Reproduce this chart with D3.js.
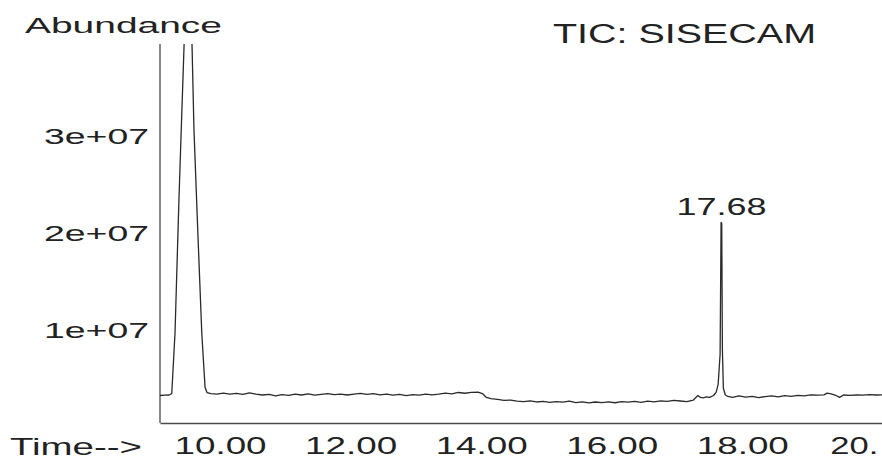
<!DOCTYPE html>
<html>
<head>
<meta charset="utf-8">
<script src="https://cdn.jsdelivr.net/npm/d3@7"></script>
<style>
  html, body { margin: 0; padding: 0; background: #fff; }
  svg { display: block; }
  text { font-family: "Liberation Sans", Arial, sans-serif; fill: #222; }
</style>
</head>
<body>
<svg id="chart" width="882" height="459"></svg>
<script>
// Retention time (min) of the total ion chromatogram
const times = [
  9.08, 9.15, 9.22, 9.26, 9.31, 9.37, 9.41, 9.45, 9.51, 9.57, 9.60, 9.66, 9.72, 9.77, 9.80, 9.86,
  9.95, 10.05, 10.15, 10.25, 10.35, 10.45, 10.55, 10.65, 10.75, 10.85, 10.95,
  11.05, 11.15, 11.25, 11.35, 11.45, 11.55, 11.65, 11.75, 11.85, 11.95,
  12.05, 12.15, 12.25, 12.35, 12.45, 12.55, 12.65, 12.75, 12.85, 12.95,
  13.05, 13.15, 13.25, 13.35, 13.45, 13.55, 13.65, 13.75, 13.85, 13.95,
  14.02, 14.08, 14.15, 14.25, 14.35, 14.45, 14.55, 14.65, 14.75, 14.85, 14.95,
  15.05, 15.15, 15.25, 15.35, 15.45, 15.55, 15.65, 15.75, 15.85, 15.95,
  16.05, 16.15, 16.25, 16.35, 16.45, 16.55, 16.65, 16.75, 16.85, 16.95,
  17.05, 17.15, 17.25, 17.32, 17.36, 17.40, 17.45, 17.50, 17.56, 17.60, 17.63, 17.66,
  17.675, 17.685, 17.695, 17.71, 17.74, 17.78, 17.85, 17.95,
  18.05, 18.15, 18.25, 18.35, 18.45, 18.55, 18.65, 18.75, 18.85, 18.95,
  19.05, 19.15, 19.25, 19.30, 19.36, 19.42, 19.49, 19.55, 19.65, 19.75, 19.85, 19.95, 20.05, 20.14
];

// Abundance (counts) at each retention time
const abundance = [
  3.25e6, 3.28e6, 3.30e6, 3.45e6, 9.7e6, 2.34e7, 3.16e7, 3.96e7, 5.3e7, 3.96e7, 3.07e7, 2.0e7, 9.7e6, 4.1e6, 3.55e6, 3.45e6,
  3.40e6, 3.50e6, 3.38e6, 3.46e6, 3.36e6, 3.52e6, 3.40e6, 3.30e6, 3.36e6, 3.22e6, 3.34e6,
  3.26e6, 3.38e6, 3.30e6, 3.42e6, 3.28e6, 3.36e6, 3.44e6, 3.34e6, 3.40e6, 3.30e6,
  3.38e6, 3.46e6, 3.36e6, 3.44e6, 3.32e6, 3.40e6, 3.28e6, 3.36e6, 3.24e6, 3.34e6,
  3.28e6, 3.40e6, 3.32e6, 3.38e6, 3.50e6, 3.42e6, 3.56e6, 3.48e6, 3.58e6, 3.60e6,
  3.45e6, 3.05e6, 2.92e6, 2.85e6, 2.74e6, 2.78e6, 2.66e6, 2.62e6, 2.70e6, 2.58e6, 2.64e6,
  2.54e6, 2.62e6, 2.56e6, 2.66e6, 2.52e6, 2.60e6, 2.48e6, 2.58e6, 2.52e6, 2.60e6,
  2.50e6, 2.62e6, 2.56e6, 2.64e6, 2.54e6, 2.66e6, 2.60e6, 2.70e6, 2.64e6, 2.74e6,
  2.68e6, 2.62e6, 2.78e6, 3.25e6, 3.05e6, 3.00e6, 3.10e6, 3.05e6, 3.25e6, 3.60e6, 4.40e6, 7.5e6,
  2.11e7, 2.10e7, 8.0e6, 4.0e6, 3.30e6, 3.15e6, 3.05e6, 3.20e6,
  3.08e6, 3.16e6, 3.04e6, 3.14e6, 3.20e6, 3.10e6, 3.24e6, 3.16e6, 3.26e6, 3.20e6,
  3.32e6, 3.28e6, 3.32e6, 3.50e6, 3.42e6, 3.30e6, 3.05e6, 3.30e6, 3.26e6, 3.30e6, 3.28e6, 3.34e6, 3.30e6, 3.32e6
];

// Labelled peak
const peakTime = 17.68;
const peakAbundance = 2.11e7;

// Axis ticks
const xTickValues = [10, 12, 14, 16, 18, 20];
const xTickLabels = ["10.00", "12.00", "14.00", "16.00", "18.00", "20."];
const yTickValues = [1e7, 2e7, 3e7];
const yTickLabels = ["1e+07", "2e+07", "3e+07"];

const svg = d3.select("#chart");
const plotLeft = 160, plotRight = 882, plotTop = 44, plotBottom = 423;

const x = d3.scaleLinear().domain([9.08, 20.14]).range([plotLeft, plotRight]);
const y = d3.scaleLinear().domain([0, 3.95e7]).range([427, plotTop]);

svg.append("defs").append("clipPath").attr("id", "plot-clip")
  .append("rect")
  .attr("x", plotLeft).attr("y", plotTop)
  .attr("width", plotRight - plotLeft).attr("height", plotBottom - plotTop);

// Stretch a text element horizontally to a given width
function stretch(sel, w) {
  sel.attr("textLength", w).attr("lengthAdjust", "spacingAndGlyphs");
}

// X axis (line along the bottom, no tick marks)
const xAxis = svg.append("g")
  .attr("transform", `translate(0,${plotBottom})`)
  .call(d3.axisBottom(x)
    .tickValues(xTickValues)
    .tickFormat((d, i) => xTickLabels[i])
    .tickSize(0).tickSizeOuter(0).tickPadding(14));
xAxis.select(".domain").attr("stroke", "#4a4a4a").attr("stroke-width", 1.3);
xAxis.selectAll(".tick text")
  .attr("font-size", 23).attr("fill", "#222")
  .attr("dy", "0.71em")
  .attr("y", 15)
  .each(function (d, i) {
    const t = d3.select(this);
    if (i === xTickLabels.length - 1) {
      // last label sits against the right edge
      t.attr("text-anchor", "end").attr("x", 5);
      stretch(t, 48);
    } else {
      stretch(t, 92);
    }
  });

// Y axis labels
const yAxis = svg.append("g")
  .attr("transform", `translate(${plotLeft},0)`)
  .call(d3.axisLeft(y)
    .tickValues(yTickValues)
    .tickFormat((d, i) => yTickLabels[i])
    .tickSize(0).tickPadding(11));
yAxis.select(".domain").remove();
yAxis.selectAll(".tick text")
  .attr("font-size", 22).attr("fill", "#222")
  .each(function () { stretch(d3.select(this), 105); });

// Y axis line
svg.append("line")
  .attr("x1", plotLeft).attr("x2", plotLeft)
  .attr("y1", plotTop).attr("y2", plotBottom)
  .attr("stroke", "#4a4a4a").attr("stroke-width", 1.3);

// Chromatogram trace
const line = d3.line()
  .x((d, i) => x(times[i]))
  .y(d => y(d));

svg.append("path")
  .datum(abundance)
  .attr("clip-path", "url(#plot-clip)")
  .attr("fill", "none")
  .attr("stroke", "#2a2a2a")
  .attr("stroke-width", 1.3)
  .attr("stroke-linejoin", "round")
  .attr("d", line);

// Peak label
svg.append("text")
  .attr("x", x(peakTime)).attr("y", y(peakAbundance) - 7)
  .attr("text-anchor", "middle")
  .attr("font-size", 23)
  .text(peakTime.toFixed(2))
  .call(stretch, 90);

// Titles
svg.append("text")
  .attr("x", 25).attr("y", 33)
  .attr("font-size", 22)
  .text("Abundance")
  .call(stretch, 197);

svg.append("text")
  .attr("x", 553).attr("y", 43)
  .attr("font-size", 27)
  .text("TIC: SISECAM")
  .call(stretch, 263);

svg.append("text")
  .attr("x", 10).attr("y", 455)
  .attr("font-size", 24)
  .text("Time-->")
  .call(stretch, 132);
</script>
</body>
</html>
